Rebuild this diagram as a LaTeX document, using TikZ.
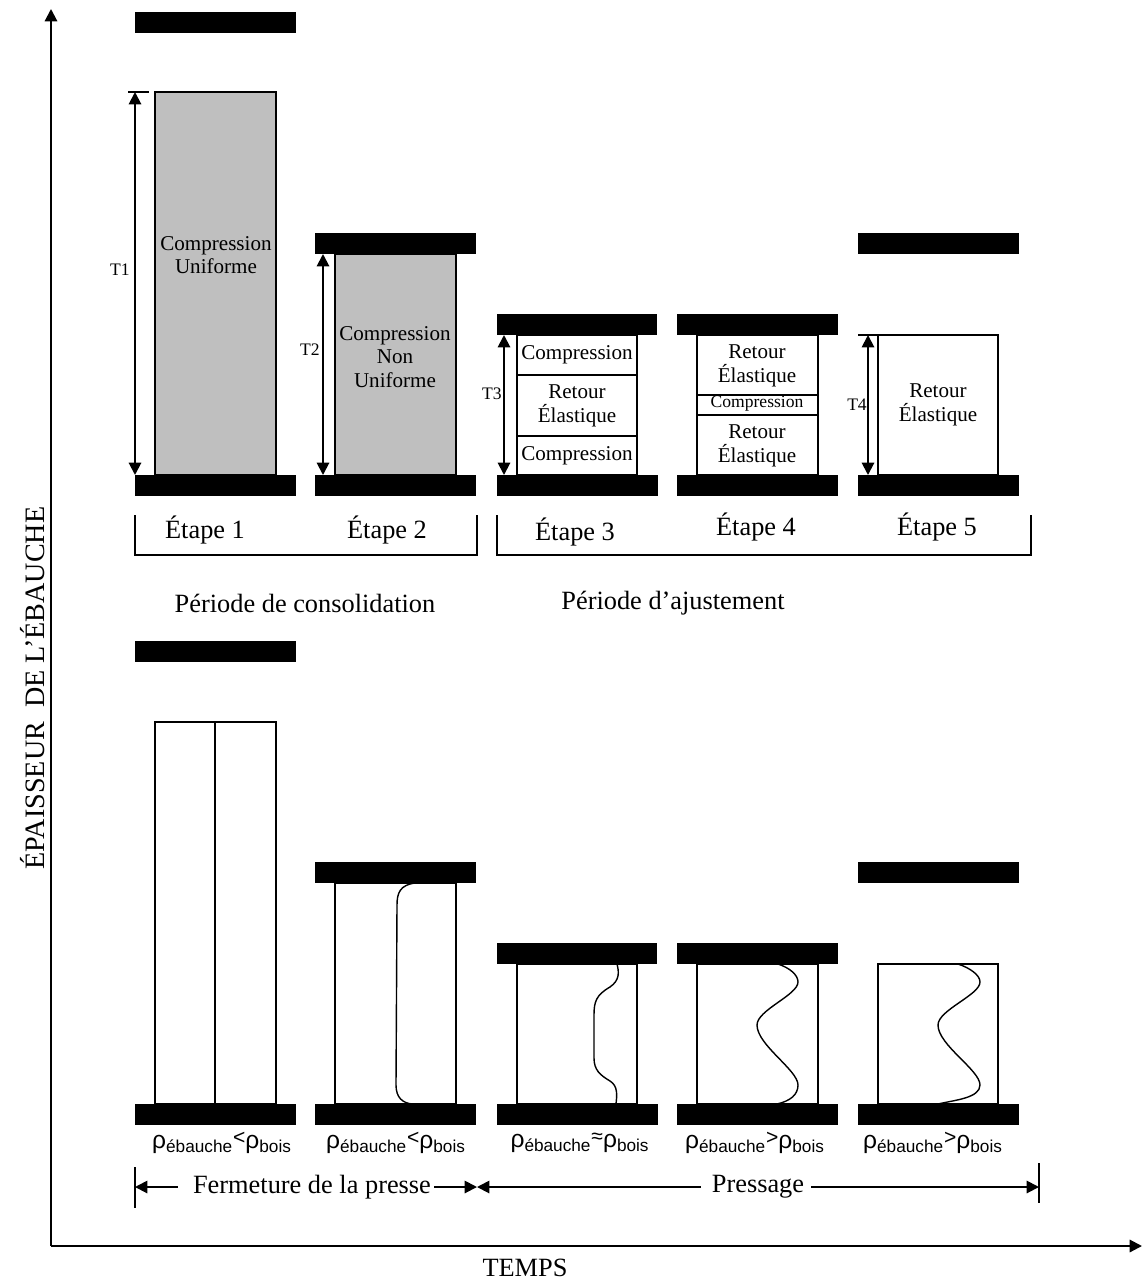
\documentclass[tikz,border=0pt]{standalone}
\usepackage{fontspec}
\setmainfont{Liberation Serif}
\newfontfamily\arial{Liberation Sans}
\usetikzlibrary{arrows.meta}

\newcommand{\rel}[1]{\raisebox{0.35ex}{\fontsize{12}{12}\selectfont #1}}

\begin{document}
\begin{tikzpicture}[x=0.02cm,y=-0.02cm,
  >={Triangle[length=7pt,width=7pt]},
  plate/.style={fill=black},
  gris/.style={draw,line width=0.8pt,fill=gray!50},
  blanc/.style={draw,line width=0.8pt,fill=white},
  fin/.style={line width=0.8pt},
  fleche/.style={line width=1.1pt},
  grand/.style={font=\fontsize{15}{18}\selectfont,inner sep=0pt},
  petit/.style={font=\fontsize{12}{13.5}\selectfont,align=center,inner sep=0pt},
  cote/.style={font=\fontsize{10}{12}\selectfont,inner sep=0pt},
  rho/.style={font=\arial\fontsize{14}{16}\selectfont,inner sep=0pt}]
\useasboundingbox (0,0) rectangle (1143,1281);

% axes
\draw[->,line width=1.2pt] (51,1246) -- (51,9);
\draw[->,line width=1.2pt] (51,1246) -- (1142,1246);
\node[font=\fontsize{16}{18}\selectfont,rotate=90,inner sep=0pt] (axey) at (33,688) {ÉPAISSEUR~~DE L’ÉBAUCHE};
\node[grand] (axex) at (525,1268) {TEMPS};

% plateaux du bas
\foreach \x in {135,315,497,677,858} {
  \fill[plate] (\x,475) rectangle ++(161,21);
  \fill[plate] (\x,1104) rectangle ++(161,21);
}

% rangee du haut
\fill[plate] (135,12) rectangle (296,33);
\fill[plate] (315,233) rectangle (476,254);
\fill[plate] (497,314) rectangle (657,335);
\fill[plate] (677,314) rectangle (838,335);
\fill[plate] (858,233) rectangle (1019,254);

\draw[gris] (155,92) rectangle (276,475);
\draw[gris] (335,254) rectangle (456,475);
\draw[blanc] (517,335) rectangle (637,475);
\draw[fin] (517,375) -- (637,375);
\draw[fin] (517,436) -- (637,436);
\draw[blanc] (697,335) rectangle (818,475);
\draw[fin] (697,395) -- (818,395);
\draw[fin] (697,415) -- (818,415);
\draw[blanc] (878,335) rectangle (998,475);

\node[petit] (e1) at (216,255) {Compression\\Uniforme};
\node[petit] (e2) at (395,357) {Compression\\Non\\Uniforme};
\node[petit] (e3a) at (577,355) {Compression};
\node[petit] (e3b) at (577,406) {Retour\\Élastique};
\node[petit] (e3c) at (577,456) {Compression};
\node[petit] (e4a) at (757,366) {Retour\\Élastique};
\node[petit,font=\fontsize{10}{12}\selectfont] (e4b) at (757,404) {Compression};
\node[petit] (e4c) at (757,446) {Retour\\Élastique};
\node[petit] (e5) at (938,405) {Retour\\Élastique};

% epaisseurs
\draw[fin] (128,92) -- (149,92);
\draw[<->,fleche] (135,92) -- (135,475);
\draw[<->,fleche] (323,254) -- (323,475);
\draw[<->,fleche] (504,335) -- (504,475);
\draw[fin] (858,335) -- (878,335);
\draw[<->,fleche] (868,335) -- (868,475);
\node[cote] (t1) at (120,270) {T1};
\node[cote] (t2) at (310,350) {T2};
\node[cote] (t3) at (492,394) {T3};
\node[cote] (t4) at (857,405) {T4};

% etapes
\draw[fin] (135,515) -- (135,555) -- (477,555) -- (477,515);
\draw[fin] (497,515) -- (497,555) -- (1031,555) -- (1031,515);
\node[grand] (et1) at (205,530) {Étape 1};
\node[grand] (et2) at (387,530) {Étape 2};
\node[grand] (et3) at (575,532) {Étape 3};
\node[grand] (et4) at (756,527) {Étape 4};
\node[grand] (et5) at (937,527) {Étape 5};
\node[grand] (consol) at (305,603) {Période de consolidation};
\node[grand] (ajust) at (673,603) {Période d’ajustement};

% rangee du bas
\fill[plate] (135,641) rectangle (296,662);
\fill[plate] (315,862) rectangle (476,883);
\fill[plate] (497,943) rectangle (657,964);
\fill[plate] (677,943) rectangle (838,964);
\fill[plate] (858,862) rectangle (1019,883);

\draw[blanc] (155,722) rectangle (276,1104);
\draw[fin] (215,722) -- (215,1104);
\draw[blanc] (335,883) rectangle (456,1104);
\draw[fin] (415,883) .. controls (400,885) and (397,893) .. (397,905)
  -- (396,1085) .. controls (396,1098) and (403,1103) .. (412,1104);
\draw[blanc] (517,964) rectangle (637,1104);
\draw[fin] (617,964) .. controls (619,972) and (620,980) .. (610,987)
  .. controls (596,995) and (594,1002) .. (594,1015) -- (594,1058)
  .. controls (594,1070) and (600,1075) .. (610,1081)
  .. controls (618,1086) and (617,1095) .. (616,1104);
\draw[blanc] (697,964) rectangle (818,1104);
\draw[fin] (778,964) .. controls (790,968) and (798,975) .. (798,982)
  .. controls (798,995) and (757,1010) .. (757,1025)
  .. controls (757,1045) and (798,1070) .. (798,1085)
  .. controls (798,1095) and (790,1101) .. (777,1104);
\draw[blanc] (878,964) rectangle (998,1104);
\draw[fin] (958,964) .. controls (970,968) and (980,975) .. (980,982)
  .. controls (980,995) and (938,1010) .. (938,1025)
  .. controls (938,1045) and (980,1070) .. (980,1085)
  .. controls (980,1098) and (955,1100) .. (938,1104);

% densites
\node[rho] (r1) at (222,1143) {ρ\textsubscript{ébauche}\rel{<}ρ\textsubscript{bois}};
\node[rho] (r2) at (396,1143) {ρ\textsubscript{ébauche}\rel{<}ρ\textsubscript{bois}};
\node[rho] (r3) at (580,1143) {ρ\textsubscript{ébauche}\rel{≈}ρ\textsubscript{bois}};
\node[rho] (r4) at (755,1143) {ρ\textsubscript{ébauche}\rel{>}ρ\textsubscript{bois}};
\node[rho] (r5) at (933,1143) {ρ\textsubscript{ébauche}\rel{>}ρ\textsubscript{bois}};

% fermeture et pressage
\coordinate (bg) at (135,1187);
\coordinate (bm) at (477,1187);
\coordinate (bd) at (1039,1187);
\draw[fin] (135,1167) -- (135,1208);
\draw[fin] (1039,1163) -- (1039,1203);
\node[grand] (ferm) at (312,1187) {Fermeture de la presse};
\node[grand] (press) at (758,1187) {Pressage};
\draw[->,fleche] (ferm.west) ++(-15,0) -- (bg);
\draw[->,fleche] (ferm.east) ++(3,0) -- (bm);
\draw[->,fleche] (press.west) ++(-11,0) -- (bm);
\draw[->,fleche] (press.east) ++(7,0) -- (bd);
\end{tikzpicture}
\end{document}
